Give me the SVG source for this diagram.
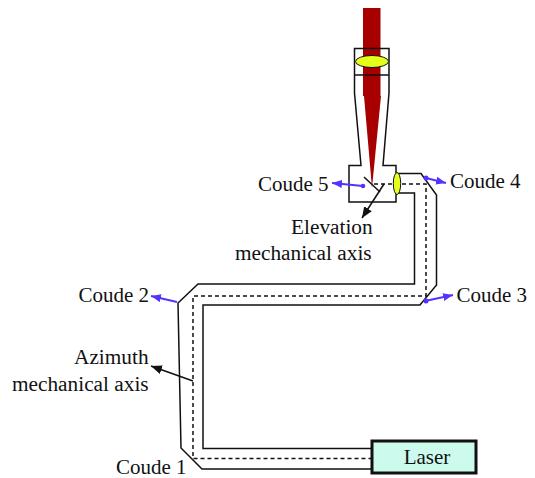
<svg xmlns="http://www.w3.org/2000/svg" width="535" height="478" viewBox="0 0 535 478">
<style>
text{font-family:"Liberation Serif","Times New Roman",serif;font-size:21px;fill:#111}
.m{font-size:21.300px}
.l{fill:none;stroke:#111;stroke-width:1.500}
.d{fill:none;stroke:#111;stroke-width:1.500;stroke-dasharray:4 3}
.b{fill:none;stroke:#5533ff;stroke-width:2}
.k{fill:none;stroke:#111;stroke-width:1.500}
.p{fill:#5533ff}
</style>
<defs>
<marker id="ab" markerUnits="userSpaceOnUse" markerWidth="11" markerHeight="10" refX="10" refY="4" orient="auto"><path d="M0 0L10 4L0 8Z" fill="#5533ff"/></marker>
<marker id="ak" markerUnits="userSpaceOnUse" markerWidth="12" markerHeight="10" refX="11" refY="4.500" orient="auto"><path d="M0 0L11 4.500L0 9Z" fill="#111"/></marker>
</defs>
<g id="beam">
<rect x="363" y="8" width="17.500" height="88" fill="#a80000"/>
<path d="M364 96H381L372 188Z" fill="#a80000"/>
</g>
<g id="telescope">
<path class="l" d="M354.500 93V48.500H389V93M354.500 75H389"/>
<path class="l" d="M354.500 93L361 165.500H349V202H396V165.500H383L389 93"/>
</g>
<g id="lens-1"><ellipse cx="372" cy="61.500" rx="16.500" ry="6" fill="#e6ff1a" stroke="#111" stroke-width="1"/></g>
<g id="connectors">
<path class="l" d="M397 173.500H421L436.500 195V285L420 305H203V448.500H372"/>
<path class="l" d="M397 193H414.500V284H198L178 303L181 448L202 469H372"/>
<path class="d" d="M374 184H426V296H193V458.500H372"/>
<path class="l" d="M364 177L380 192"/>
<path class="b" d="M363 186L332 183" marker-end="url(#ab)"/>
<circle class="p" cx="363" cy="186" r="2.300"/>
<path class="b" d="M426 178L446 183" marker-end="url(#ab)"/>
<circle class="p" cx="426" cy="178" r="2.500"/>
<path class="b" d="M425 301L453 295" marker-end="url(#ab)"/>
<circle class="p" cx="426" cy="301" r="2.500"/>
<path class="b" d="M177 302L151 296" marker-end="url(#ab)"/>
<path class="k" d="M384 184L362 218" marker-end="url(#ak)"/>
<path class="k" d="M193 381L151 366" marker-end="url(#ak)"/>
</g>
<g id="lens-2"><ellipse cx="397" cy="183.500" rx="3.700" ry="11" fill="#e6ff1a" stroke="#111" stroke-width="1"/></g>
<g id="laser"><rect x="372" y="441" width="104" height="32" fill="#ccfbee" stroke="#111" stroke-width="3"/><text x="427" y="464" text-anchor="middle">Laser</text></g>
<g id="labels">
<text x="258" y="191">Coude 5</text>
<text x="450" y="188">Coude 4</text>
<text x="456.500" y="302">Coude 3</text>
<text x="78.500" y="302">Coude 2</text>
<text x="116" y="474">Coude 1</text>
<text x="291" y="234" class="m">Elevation</text>
<text x="235" y="260" class="m">mechanical axis</text>
<text x="74" y="364" class="m">Azimuth</text>
<text x="12" y="391" class="m">mechanical axis</text>
</g>
</svg>
